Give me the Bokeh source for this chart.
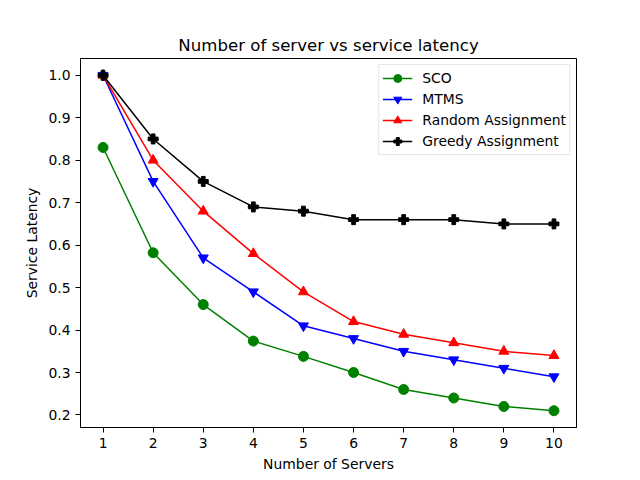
from bokeh.plotting import figure
from bokeh.embed import file_html
from bokeh.resources import INLINE
from bokeh.models import FixedTicker, NumeralTickFormatter, Range1d, Legend, LegendItem

servers = [1, 2, 3, 4, 5, 6, 7, 8, 9, 10]
sco = [0.83, 0.582, 0.46, 0.374, 0.338, 0.30, 0.26, 0.24, 0.22, 0.21]
mtms = [1.0, 0.75, 0.57, 0.49, 0.41, 0.38, 0.35, 0.33, 0.31, 0.29]
random_assign = [1.0, 0.80, 0.68, 0.58, 0.49, 0.42, 0.39, 0.37, 0.35, 0.34]
greedy = [1.0, 0.85, 0.75, 0.69, 0.68, 0.66, 0.66, 0.66, 0.65, 0.65]
y_ticks = [0.2, 0.3, 0.4, 0.5, 0.6, 0.7, 0.8, 0.9, 1.0]

FONT = "DejaVu Sans"

p = figure(width=640, height=480, output_backend="svg", toolbar_location=None,
           title="Number of server vs service latency",
           x_range=Range1d(0.55, 10.45), y_range=Range1d(0.1705, 1.0395),
           min_border_left=80, min_border_right=64, min_border_top=58, min_border_bottom=53)

p.title.align = "center"
p.title.text_font = FONT
p.title.text_font_size = "16.6px"
p.title.text_font_style = "normal"
p.title.text_color = "black"
p.title.standoff = 7

series = [
    ("SCO", sco, "green", "circle"),
    ("MTMS", mtms, "blue", "inverted_triangle"),
    ("Random Assignment", random_assign, "red", "triangle"),
    ("Greedy Assignment", greedy, "black", "plus"),
]
items = []
for name, vals, color, marker in series:
    l = p.line(servers, vals, line_color=color, line_width=1.5)
    s = p.scatter(servers, vals, marker=marker, size=10,
                  fill_color=color, line_color=color)
    items.append(LegendItem(label=name, renderers=[l, s]))

legend = Legend(items=items, location="top_right")
legend.label_text_font = FONT
legend.label_text_font_size = "13.9px"
legend.label_text_color = "black"
legend.border_line_color = "#cccccc"
legend.border_line_width = 1
legend.margin = 6
legend.padding = 3
legend.spacing = 1
legend.label_height = 20
legend.glyph_height = 20
legend.glyph_width = 30
legend.label_standoff = 10
p.add_layout(legend)

p.xgrid.visible = False
p.ygrid.visible = False
p.outline_line_color = "black"
p.outline_line_width = 1

p.xaxis.ticker = FixedTicker(ticks=servers)
p.yaxis.ticker = FixedTicker(ticks=y_ticks)
p.yaxis.formatter = NumeralTickFormatter(format="0.0")
p.xaxis.axis_label = "Number of Servers"
p.yaxis.axis_label = "Service Latency"
for ax in (p.xaxis, p.yaxis):
    ax.axis_label_text_font = FONT
    ax.axis_label_text_font_size = "13.9px"
    ax.axis_label_text_font_style = "normal"
    ax.major_label_text_font = FONT
    ax.major_label_text_font_size = "13.9px"
    ax.major_tick_in = 0
    ax.major_tick_out = 5
    ax.minor_tick_in = 0
    ax.minor_tick_out = 0
    ax.axis_line_color = "black"
    ax.major_tick_line_color = "black"
    ax.major_label_text_color = "black"
    ax.axis_label_text_color = "black"
p.xaxis.axis_label_standoff = 5
p.yaxis.axis_label_standoff = 5

open("out.html", "w").write(file_html(p, INLINE))
